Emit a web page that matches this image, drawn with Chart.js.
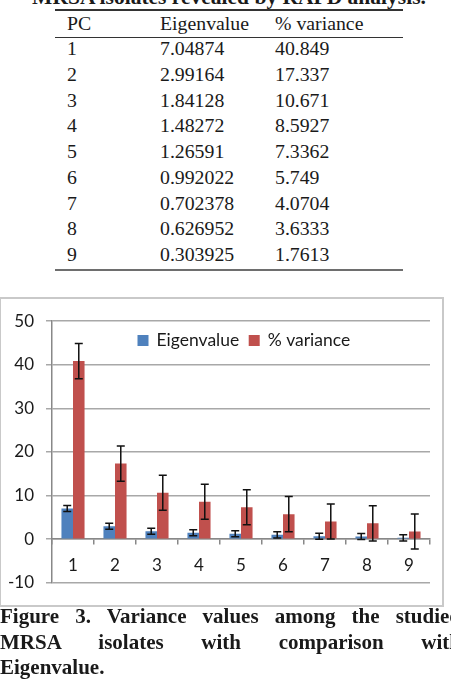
<!DOCTYPE html>
<html lang="en">
<head>
  <meta charset="UTF-8">
  <title>Variance values among the studied MRSA isolates</title>
  <script src="https://cdn.jsdelivr.net/npm/chart.js"></script>
  <style>
    body, html {
      width: 451px;
      height: 679px;
      margin: 0;
      padding: 0;
      overflow: hidden;
      background: #fff;
      position: relative;
    }
    .serif { font-family: "Liberation Serif", "Times New Roman", serif; color: #1a1a1a; }
    .title {
      position: absolute; left: 0; top: -13px; width: 458px;
      text-align: center; white-space: nowrap;
      font-weight: bold; font-size: 21.5px; line-height: 21.5px;
    }
    .rule { position: absolute; left: 55px; width: 348px; }
    .cell {
      position: absolute; white-space: nowrap;
      font-size: 19.8px; line-height: 25.7px;
    }
    .chart-box {
      position: absolute; left: -1px; top: 297px;
      width: 445px; height: 310px;
      box-sizing: border-box;
      border: 2px solid #c9c9c9;
    }
    .caption {
      position: absolute; left: 0; top: 604px; width: 461px;
      font-weight: bold; font-size: 21px; line-height: 25.5px;
    }
    .caption div { text-align: justify; text-align-last: justify; white-space: nowrap; }
    .caption div.last { text-align-last: left; }
  </style>
</head>
<body>
  <div class="serif title">MRSA isolates revealed by RAPD analysis.</div>

  <div class="rule" style="top:9px; height:1.5px; background:#333;"></div>
  <div class="rule" style="top:36.5px; height:1.5px; background:#333;"></div>
  <div class="rule" style="top:268.5px; height:2px; background:#6e6e6e;"></div>
  <div id="table"></div>

  <div class="chart-box">
    <canvas id="pcChart" width="441" height="306"></canvas>
  </div>

  <div class="serif caption">
    <div>Figure 3. Variance values among the studied</div>
    <div>MRSA isolates with comparison with</div>
    <div class="last">Eigenvalue.</div>
  </div>

  <script>
    const pcLabels = ['1', '2', '3', '4', '5', '6', '7', '8', '9'];
    const eigenvalues = [7.04874, 2.99164, 1.84128, 1.48272, 1.26591, 0.992022, 0.702378, 0.626952, 0.303925];
    const variance = [40.849, 17.337, 10.671, 8.5927, 7.3362, 5.749, 4.0704, 3.6333, 1.7613];
    const eigenErrors = [0.69, 0.69, 0.69, 0.69, 0.69, 0.69, 0.69, 0.69, 0.69];
    const varianceErrors = [4.02, 4.02, 4.02, 4.02, 4.02, 4.02, 4.02, 4.02, 4.02];
    const tableHeader = ['PC', 'Eigenvalue', '% variance'];
    const yTicks = [-10, 0, 10, 20, 30, 40, 50];

    // table above the chart
    const colX = [67, 160, 275];
    const rows = [tableHeader].concat(pcLabels.map((pc, i) => [pc, eigenvalues[i], variance[i]]));
    const table = document.getElementById('table');
    rows.forEach((row, r) => {
      row.forEach((txt, c) => {
        const d = document.createElement('div');
        d.className = 'serif cell';
        d.style.left = colX[c] + 'px';
        d.style.top = (10.6 + r * 25.7) + 'px';
        d.textContent = String(txt);
        table.appendChild(d);
      });
    });

    const FONT = 'Lato, "Open Sans", sans-serif';

    const errorBars = {
      id: 'errorBars',
      afterDatasetsDraw(chart) {
        const ctx = chart.ctx;
        const y = chart.scales.y;
        ctx.save();
        ctx.strokeStyle = '#111';
        ctx.lineWidth = 1.5;
        chart.data.datasets.forEach((ds, i) => {
          chart.getDatasetMeta(i).data.forEach((bar, j) => {
            const hi = y.getPixelForValue(ds.data[j] + ds.errors[j]);
            const lo = y.getPixelForValue(ds.data[j] - ds.errors[j]);
            ctx.beginPath();
            ctx.moveTo(bar.x, hi); ctx.lineTo(bar.x, lo);
            ctx.moveTo(bar.x - 4, hi); ctx.lineTo(bar.x + 4, hi);
            ctx.moveTo(bar.x - 4, lo); ctx.lineTo(bar.x + 4, lo);
            ctx.stroke();
          });
        });
        ctx.restore();
      }
    };

    // legend sits inside the plot, like the Excel original
    const innerLegend = {
      id: 'innerLegend',
      afterDraw(chart) {
        const ctx = chart.ctx;
        let x = 136.5;
        const yc = 41.5;
        ctx.save();
        ctx.font = '17.5px ' + FONT;
        ctx.textBaseline = 'middle';
        chart.data.datasets.forEach(ds => {
          ctx.fillStyle = ds.backgroundColor;
          ctx.fillRect(x, yc - 5.5, 11, 11);
          x += 19;
          ctx.fillStyle = '#1a1a1a';
          ctx.fillText(ds.label, x, yc);
          x += ctx.measureText(ds.label).width + 9.5;
        });
        ctx.restore();
      }
    };

    new Chart(document.getElementById('pcChart'), {
      type: 'bar',
      data: {
        labels: pcLabels,
        datasets: [
          { label: 'Eigenvalue', data: eigenvalues, errors: eigenErrors, backgroundColor: '#4F81BD' },
          { label: '% variance', data: variance, errors: varianceErrors, backgroundColor: '#C0504D' }
        ]
      },
      options: {
        responsive: false,
        animation: false,
        categoryPercentage: 0.55,
        barPercentage: 1.0,
        layout: { padding: { top: 19, right: 12, bottom: 22, left: 0 } },
        plugins: {
          legend: { display: false },
          tooltip: { enabled: false }
        },
        scales: {
          x: {
            position: { y: 0 },
            grid: { offset: true, drawOnChartArea: false, drawTicks: true, tickLength: 5, color: '#888', lineWidth: 1.5 },
            border: { display: true, color: '#888', width: 1.5 },
            ticks: { font: { family: FONT, size: 17 }, color: '#1a1a1a', padding: 11 }
          },
          y: {
            min: -10,
            max: 50,
            afterBuildTicks: (scale) => { scale.ticks = yTicks.map(v => ({ value: v })); },
            afterFit: (scale) => { scale.width = 51; },
            grid: { color: '#a8a8a8', lineWidth: 1.5, tickLength: 6 },
            border: { display: true, color: '#888', width: 1.5 },
            ticks: { font: { family: FONT, size: 17 }, color: '#1a1a1a', padding: 12 }
          }
        }
      },
      plugins: [errorBars, innerLegend]
    });
  </script>
</body>
</html>
